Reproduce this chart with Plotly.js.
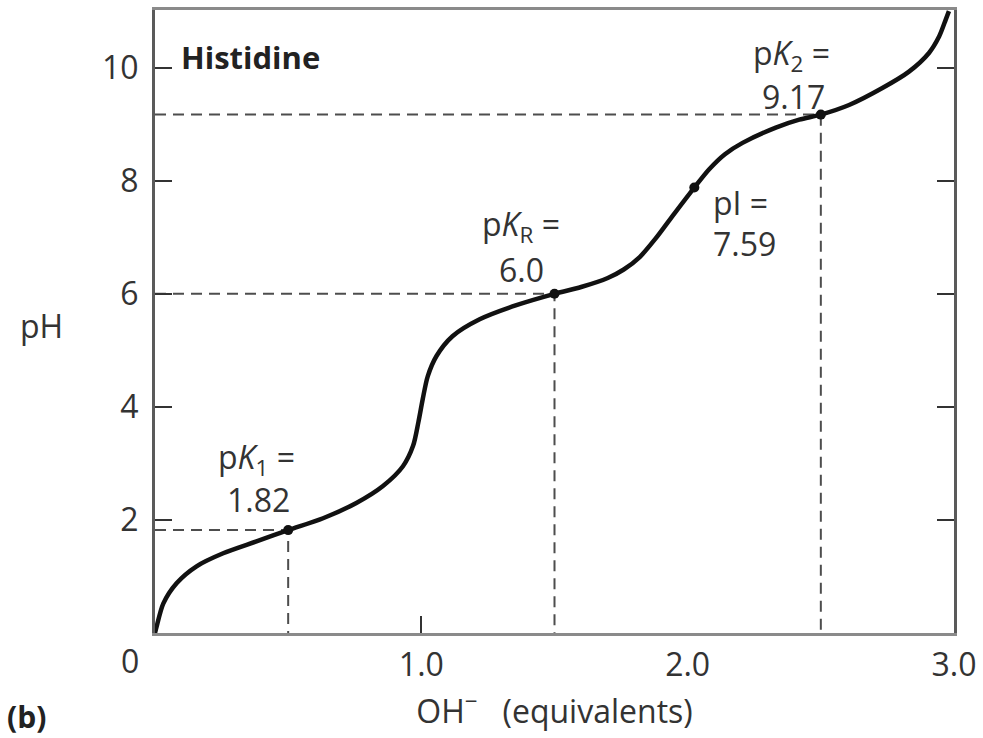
<!DOCTYPE html>
<html>
<head>
<meta charset="utf-8">
<script src="https://cdn.plot.ly/plotly-3.0.1.min.js"></script>
<style>html,body{margin:0;padding:0;background:#fff;}#chart{width:983px;height:738px;}</style>
</head>
<body>
<div id="chart"></div>
<script>
// Titration curve of histidine
const curveX = [0, 0.006, 0.031, 0.081, 0.156, 0.256, 0.381, 0.5, 0.631, 0.756, 0.856, 0.931, 0.969, 0.989, 1.005, 1.024, 1.057, 1.117, 1.219, 1.357, 1.5, 1.6, 1.7, 1.76, 1.82, 1.88, 1.95, 2.025, 2.08, 2.14, 2.206, 2.331, 2.419, 2.5, 2.606, 2.731, 2.831, 2.906, 2.944, 2.969, 2.981];
const curveY = [0.0, 0.11, 0.52, 0.88, 1.18, 1.41, 1.62, 1.82, 2.03, 2.30, 2.60, 2.95, 3.31, 3.73, 4.13, 4.54, 4.9, 5.25, 5.55, 5.8, 6.0, 6.12, 6.28, 6.43, 6.65, 6.98, 7.42, 7.88, 8.2, 8.47, 8.67, 8.94, 9.08, 9.17, 9.34, 9.64, 9.93, 10.26, 10.55, 10.85, 11.0];

// pK points (equivalents, pH)
const pKx = [0.5, 1.5, 2.5];
const pKy = [1.82, 6.0, 9.17];
// isoelectric point marker as drawn
const pIx = [2.025];
const pIy = [7.88];

const xTickVals = [1, 2, 3];
const xTickText = ['1.0', '2.0', '3.0'];
const yTickVals = [2, 4, 6, 8, 10];
const yTickText = ['2', '4', '6', '8', '10'];

const FONT = '"Open Sans", "Noto Sans", sans-serif';
const TXT = '#333333';
const FS = 32;

// dashed guide lines built from the pK arrays
const dashX = [], dashY = [];
pKx.forEach((x, i) => {
  dashX.push(0, x, x, null);
  dashY.push(pKy[i], pKy[i], 0, null);
});

const traces = [
  {x: dashX, y: dashY, mode: 'lines', line: {color: '#4d4d4d', width: 2, dash: '11px,7px'}, hoverinfo: 'skip', showlegend: false, connectgaps: false},
  {x: curveX, y: curveY, mode: 'lines', line: {color: '#111111', width: 4.5, shape: 'spline', smoothing: 0.8}, showlegend: false},
  {x: pKx.concat(pIx), y: pKy.concat(pIy), xaxis: 'x2', mode: 'markers', marker: {color: '#111111', size: 10}, showlegend: false}
];

function ann(text, px, py, opts) {
  return Object.assign({
    text: text, xref: 'paper', yref: 'paper',
    x: (px - 155) / 799, y: (633 - py) / 623,
    xanchor: 'center', yanchor: 'middle', showarrow: false,
    font: {family: FONT, size: FS, color: TXT}
  }, opts || {});
}

const annotations = [
  ann('<b>Histidine</b>', 179, 57, {xanchor: 'left', font: {family: FONT, size: 31, color: '#222'}}),
  ann('p<i>K</i><sub>1</sub> =', 256, 459),
  ann('1.82', 258, 499),
  ann('p<i>K</i><sub>R</sub> =', 521, 226),
  ann('6.0', 521, 269),
  ann('pI =', 711, 202, {xanchor: 'left'}),
  ann('7.59', 711, 243, {xanchor: 'left'}),
  ann('p<i>K</i><sub>2</sub> =', 791, 55),
  ann('9.17', 793, 97),
  ann('pH', 42, 325),
  ann('0', 130, 660),
  ann('<b>(b)</b>', 5, 717, {xanchor: 'left', font: {family: FONT, size: 30, color: '#222'}})
];

const layout = {
  width: 983, height: 738,
  margin: {l: 155, r: 29, t: 10, b: 105},
  paper_bgcolor: '#ffffff', plot_bgcolor: '#ffffff',
  font: {family: FONT, size: FS, color: TXT},
  showlegend: false,
  xaxis: {
    range: [0, 3], showgrid: false, zeroline: false,
    showline: true, linecolor: '#8a8a8a', linewidth: 3, mirror: true,
    tickvals: xTickVals, ticktext: xTickText, ticks: '',
    ticklabelstandoff: 2,
    tickfont: {family: FONT, size: FS, color: TXT},
    title: {text: 'OH<sup>−</sup>   (equivalents)', font: {family: FONT, size: FS, color: TXT}, standoff: 10}
  },
  xaxis2: {
    overlaying: 'x', anchor: 'y', side: 'bottom',
    range: [0, 3], showgrid: false, zeroline: false, showline: false,
    tickvals: [1], ticks: 'inside', ticklen: 17, tickwidth: 2, tickcolor: '#333',
    showticklabels: false
  },
  yaxis: {
    range: [0, 11.02], showgrid: false, zeroline: false,
    showline: true, linecolor: '#5a5a5a', linewidth: 3, mirror: 'ticks',
    tickvals: yTickVals, ticktext: yTickText,
    ticks: 'inside', ticklen: 17, tickwidth: 2, tickcolor: '#333',
    ticklabelstandoff: 7,
    tickfont: {family: FONT, size: FS, color: TXT}
  },
  annotations: annotations
};

Plotly.newPlot('chart', traces, layout, {staticPlot: true, displayModeBar: false});
</script>
</body>
</html>
